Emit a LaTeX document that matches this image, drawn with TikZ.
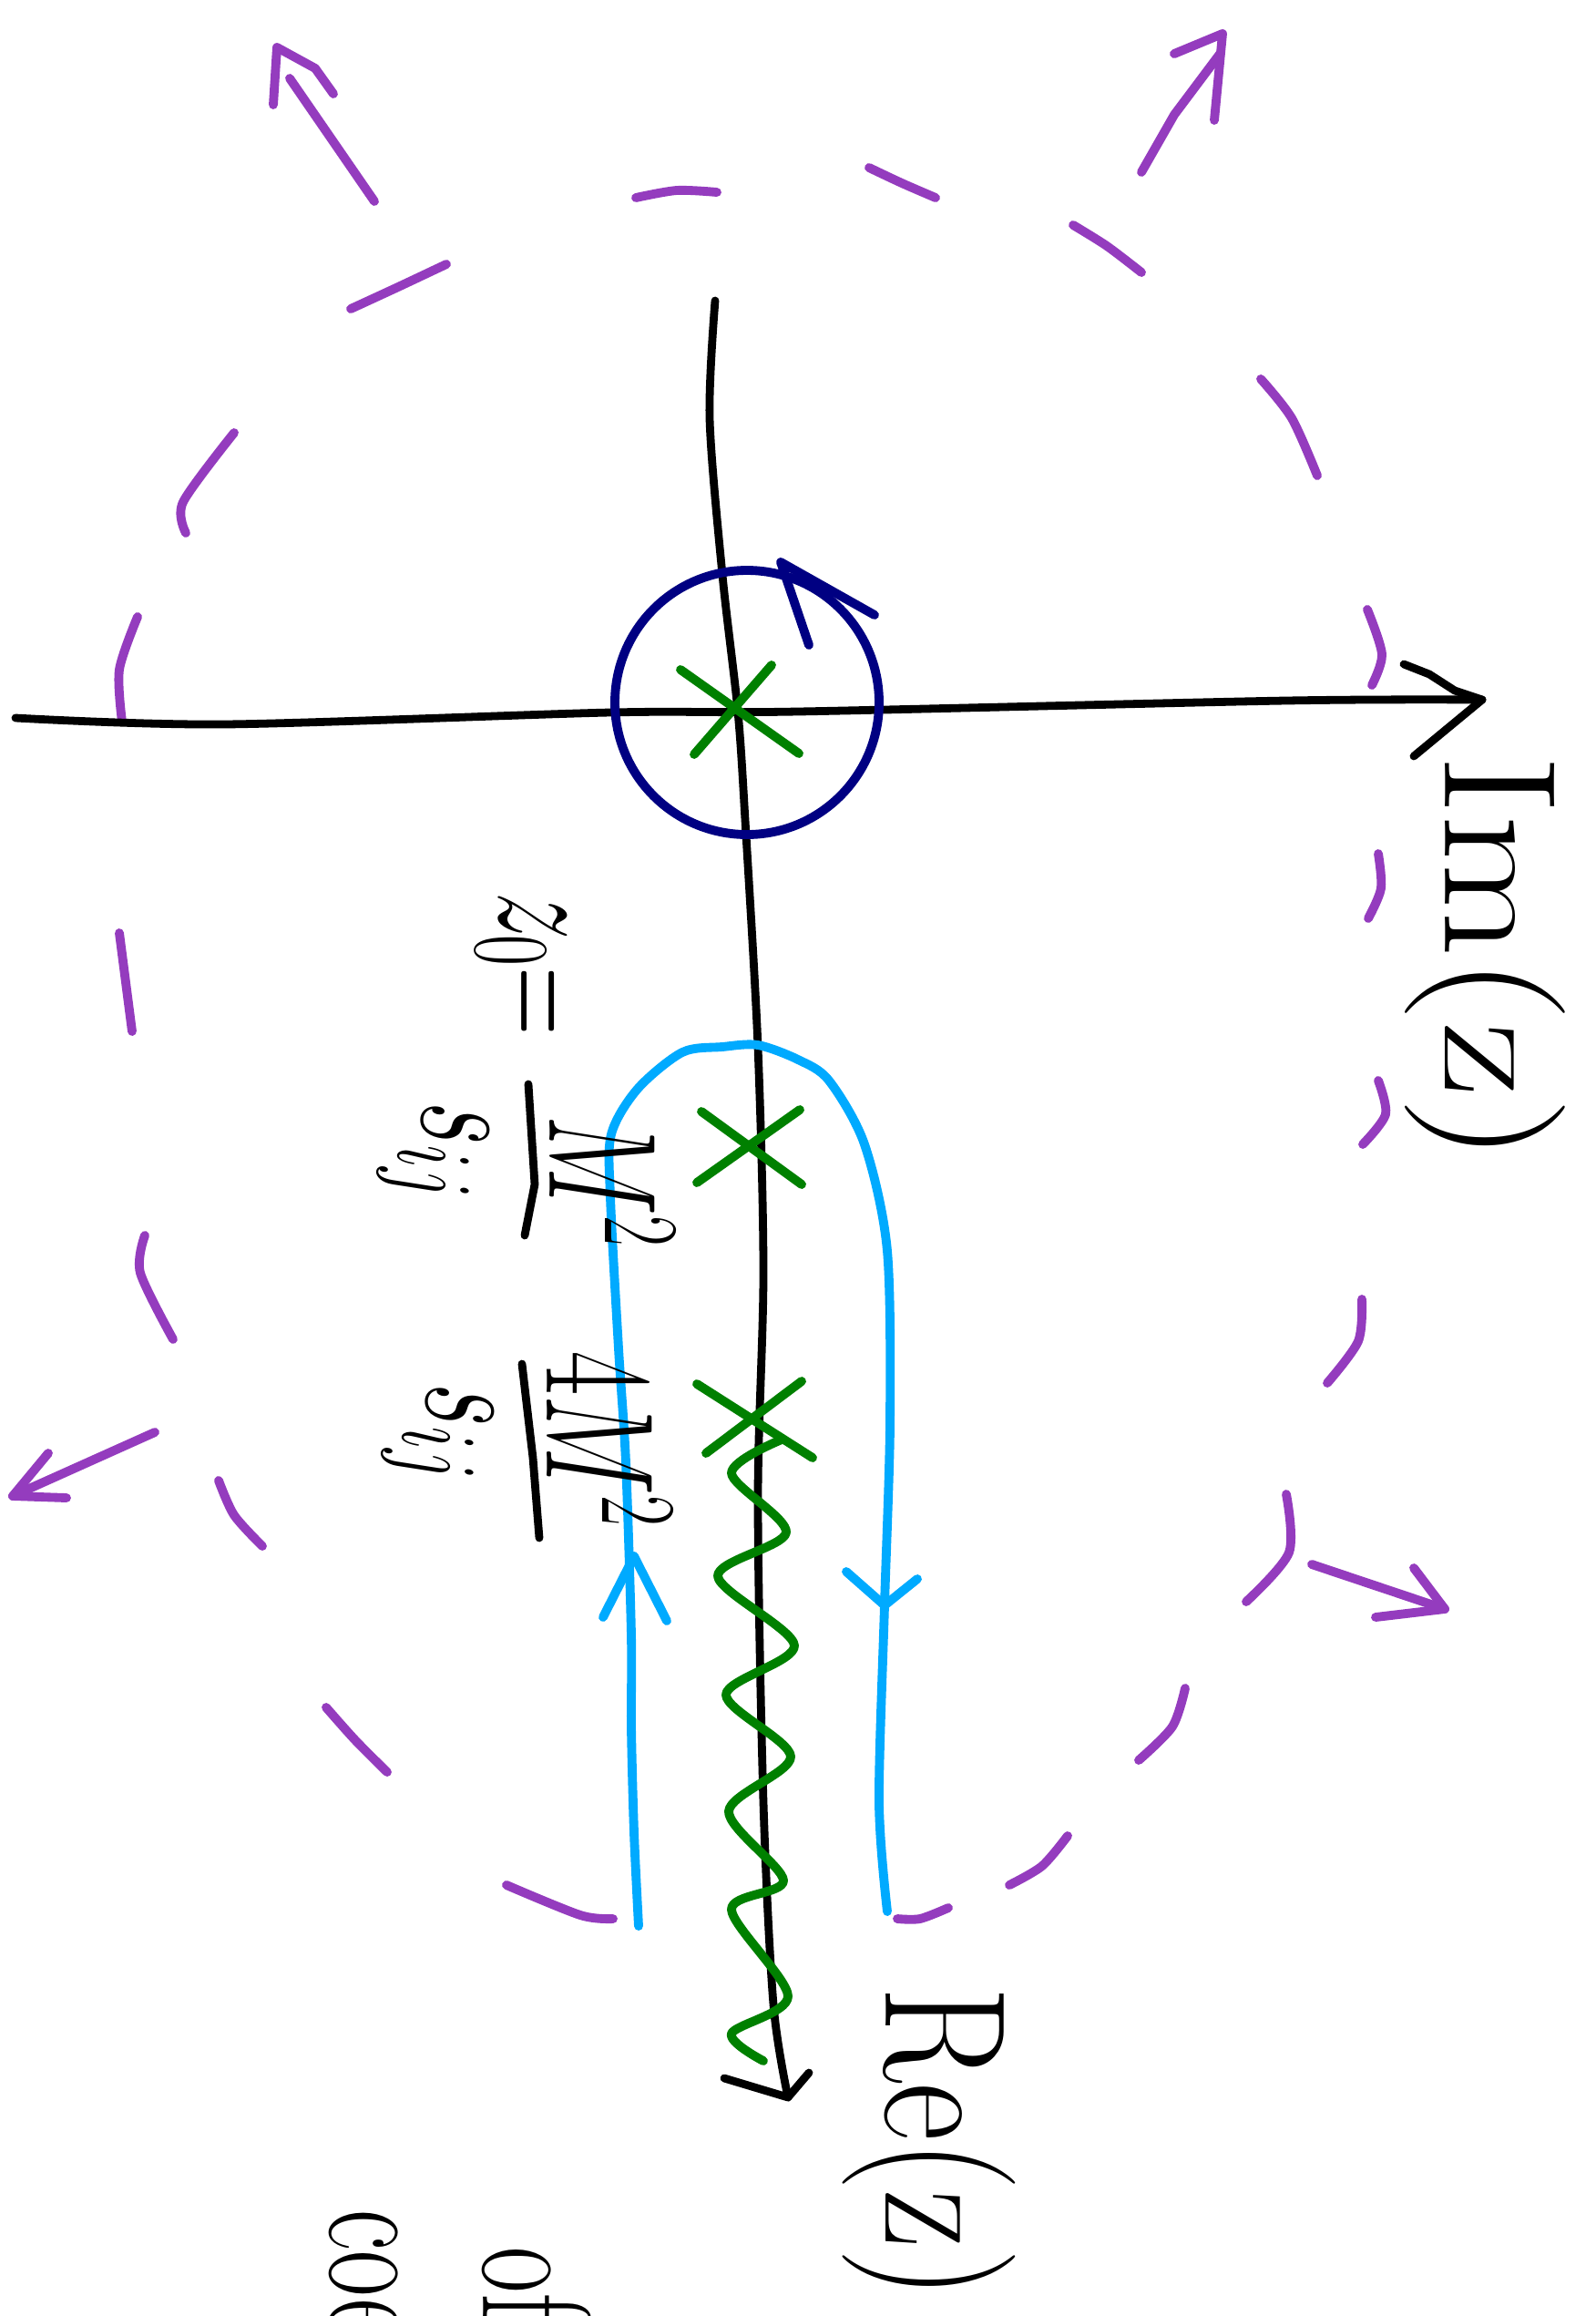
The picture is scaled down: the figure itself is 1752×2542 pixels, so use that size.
\RequirePackage{fix-cm}
\documentclass[tikz,border=0pt]{standalone}
\usepackage{graphicx}
\definecolor{pcol}{RGB}{148,60,190}
\definecolor{lblue}{RGB}{0,170,255}
\definecolor{navyc}{RGB}{0,0,130}
\definecolor{grn}{RGB}{0,128,0}
\newcommand{\fsq}[1]{\fontsize{48}{56}\selectfont\scalebox{0.62}[1]{#1}}
\begin{document}
\begin{tikzpicture}[x=0.01cm,y=-0.01cm,
  stroke/.style={line width=2.8pt,line cap=round,line join=round},
  ax/.style={stroke,draw=black,line width=2.5pt},
  pl/.style={stroke,draw=pcol},
  bl/.style={stroke,draw=lblue},
  nv/.style={stroke,draw=navyc},
  gr/.style={stroke,draw=grn},
  lbl/.style={rotate=-90,inner sep=0pt,text=black},
  mth/.style={lbl,anchor=base}]
\useasboundingbox (0,0) rectangle (1752,2542);
\clip (0,0) rectangle (1752,2542);
\fill[white] (0,0) rectangle (1752,2542);

% purple dashed big contour
\draw[pl] plot[smooth] coordinates {(698,217) (743,209) (787,211)};
\draw[pl] plot[smooth] coordinates {(954,184) (990,201) (1027,217)};
\draw[pl] plot[smooth] coordinates {(1178,247) (1215,270) (1253,299)};
\draw[pl] plot[smooth] coordinates {(1384,416) (1418,459) (1446,522)};
\draw[pl] plot[smooth] coordinates {(1501,669) (1517,718) (1506,752)};
\draw[pl] plot[smooth] coordinates {(1513,937) (1516,975) (1502,1008)};
\draw[pl] plot[smooth] coordinates {(1513,1186) (1521,1223) (1496,1256)};
\draw[pl] plot[smooth] coordinates {(1495,1426) (1491,1472) (1457,1518)};
\draw[pl] plot[smooth] coordinates {(1412,1640) (1415,1704) (1368,1758)};
\draw[pl] plot[smooth] coordinates {(1301,1853) (1287,1895) (1250,1932)};
\draw[pl] plot[smooth] coordinates {(1172,2015) (1144,2048) (1108,2069)};
\draw[pl] plot[smooth] coordinates {(1041,2094) (1010,2106) (985,2106)};
\draw[pl] plot[smooth] coordinates {(673,2106) (637,2102) (556,2069)};
\draw[pl] plot[smooth] coordinates {(425,1945) (390,1910) (358,1874)};
\draw[pl] plot[smooth] coordinates {(288,1697) (257,1663) (240,1625)};
\draw[pl] plot[smooth] coordinates {(190,1470) (154,1397) (159,1356)};
\draw[pl] plot[smooth] coordinates {(145,1132) (138,1078) (131,1024)};
\draw[pl] plot[smooth] coordinates {(134,792) (131,735) (151,677)};
\draw[pl] plot[smooth] coordinates {(204,585) (201,551) (257,475)};
\draw[pl] plot[smooth] coordinates {(385,339) (437,315) (490,290)};

% purple outward arrows
\coordinate (a1s) at (411,221); \coordinate (a1t) at (304,52);
\draw[pl] (a1s) -- (318,86);
\draw[pl] (300,115) -- (a1t) -- (346,75) -- (366,103);
\coordinate (a2s) at (1253,189); \coordinate (a2t) at (1342,37);
\draw[pl] (a2s) -- (1289,126) -- (1340,58);
\draw[pl] (1289,59) -- (a2t) -- (1333,132);
\coordinate (a3s) at (170,1572); \coordinate (a3t) at (14,1642);
\draw[pl] (a3s) -- (a3t);
\draw[pl] (53,1595) -- (a3t) -- (73,1644);
\coordinate (a4s) at (1440,1717); \coordinate (a4t) at (1586,1766);
\draw[pl] (a4s) -- (a4t);
\draw[pl] (1552,1721) -- (a4t) -- (1510,1775);

% axes
\coordinate (imL) at (17,788); \coordinate (imR) at (1627,768);
\draw[ax] plot[smooth] coordinates {(17,788) (246,795) (670,782) (876,781) (1412,769) (1627,768)};
\draw[ax] (1541,729) -- (1569,740) -- (1597,758) -- (imR) -- (1552,830);
\coordinate (reT) at (785,330); \coordinate (reB) at (865,2302);
\draw[ax] plot[smooth] coordinates {(785,330) (779,459) (793,631) (810,781) (818,900) (832,1149) (838,1397) (832,1646) (838,1978) (849,2200) (865,2302)};
\draw[ax] (795,2281) -- (reB) -- (888,2275);

% light blue keyhole contour
\draw[bl] plot[smooth] coordinates {(701,2114) (696,2011) (693,1895) (693,1795) (687,1605) (679,1480) (670,1314) (671,1245) (700,1195) (749,1155) (793,1149) (832,1147) (876,1163) (910,1186) (949,1256) (974,1373) (977,1563) (971,1762) (965,1978) (974,2098)};
\draw[bl] (662,1775) -- (696,1708) -- (732,1779);
\draw[bl] (929,1725) -- (971,1762) -- (1007,1733);

% navy circle around origin
\coordinate (orig) at (820,771);
\draw[nv] (orig) circle [radius=145];
\draw[nv] (888,708) -- (857,617) -- (960,675);

% green crosses
\draw[gr] (747,735) -- (877,827);
\draw[gr] (847,730) -- (762,828);
\draw[gr] (770,1220) -- (880,1300);
\draw[gr] (765,1298) -- (878,1218);
\draw[gr] (765,1519) -- (892,1600);
\draw[gr] (880,1516) -- (775,1595);

% branch cut (wavy)
\draw[gr] plot[smooth] coordinates {(858,1580) (803,1617) (863,1682) (788,1730) (872,1806) (797,1860) (868,1928) (800,1988) (860,2064) (803,2096) (865,2191) (803,2232) (838,2262)};

% axis labels
\node[lbl] (imlabel) at (1630,1052) {\fontsize{50}{60}\selectfont\scalebox{1.15}[1]{Im(z)}};
\node[lbl] (relabel) at (1020,2352) {\fontsize{54}{64}\selectfont\scalebox{0.82}[1]{Re(z)}};

% pole labels
\node[mth] (zeq) at (548,1058) {\fsq{$z_0{=}$}};
\node[mth] (znum) at (603,1297) {\fsq{$M^2$}};
\node[mth] (zden) at (463,1263) {\fsq{$s_{ij}$}};
\draw[ax] (580,1190) -- (587,1300) -- (576,1356);
\node[mth] (tnum) at (600,1580) {\fsq{$4M^2$}};
\node[mth] (tden) at (468,1572) {\fsq{$s_{ij}$}};
\draw[ax] (573,1497) -- (585,1600) -- (592,1688);

% cut-off text at the bottom edge
\node[lbl,anchor=base west] (coe) at (362,2425) {\fontsize{48}{58}\selectfont\scalebox{0.65}[1]{coe}};
\node[lbl,anchor=base west] (of) at (530,2466) {\fontsize{48}{58}\selectfont\scalebox{0.65}[1]{of}};
\end{tikzpicture}
\end{document}
